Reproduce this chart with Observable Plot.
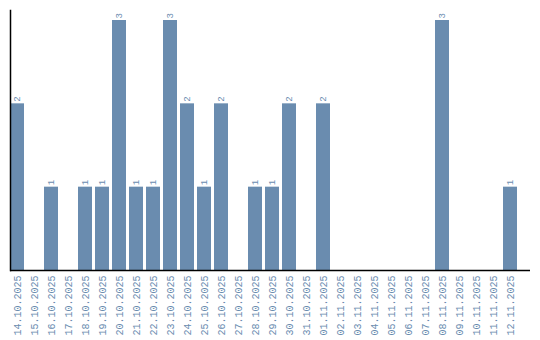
<!DOCTYPE html>
<html><head><meta charset="utf-8">
<script src="https://cdn.jsdelivr.net/npm/d3@7"></script>
<script src="https://cdn.jsdelivr.net/npm/@observablehq/plot@0.6"></script>
<style>body{margin:0;background:#fff}</style>
</head><body><div id="chart"></div>
<script>
const dates = ["14.10.2025","15.10.2025","16.10.2025","17.10.2025","18.10.2025","19.10.2025","20.10.2025","21.10.2025","22.10.2025","23.10.2025","24.10.2025","25.10.2025","26.10.2025","27.10.2025","28.10.2025","29.10.2025","30.10.2025","31.10.2025","01.11.2025","02.11.2025","03.11.2025","04.11.2025","05.11.2025","06.11.2025","07.11.2025","08.11.2025","09.11.2025","10.11.2025","11.11.2025","12.11.2025"];
const counts = [2,0,1,0,1,1,3,1,1,3,2,1,2,0,1,1,2,0,2,0,0,0,0,0,0,3,0,0,0,1];
const data = dates.map((d,i)=>({date:d, count:counts[i]}));
const nonzero = data.filter(d=>d.count>0);
const color = "#6a8caf";
const chart = Plot.plot({
  width: 540, height: 340,
  marginLeft: 10, marginRight: 10, marginTop: 10, marginBottom: 70,
  style: {fontFamily: "'Liberation Mono', monospace", fontSize: "10px"},
  x: {domain: dates, range: [10, 517], paddingInner: 3/17, paddingOuter: 0, align: 0, label: null, tickSize: 0, tickRotate: -90, tickPadding: 5},
  y: {domain: [0, 3.12], axis: null},
  marks: [
    Plot.barY(data, {x: "date", y: "count", fill: color}),
    Plot.text(nonzero, {x: "date", y: "count", text: d => String(d.count), rotate: -90, textAnchor: "start", dy: -2, fill: color, fontSize: 9}),
    Plot.axisX({tickSize: 0, tickRotate: -90, tickPadding: 5, fill: color, label: null, fontSize: 10}),
    Plot.ruleY([0], {stroke: "black", strokeWidth: 1.5}),
    Plot.frame({anchor: "left", stroke: "black", strokeWidth: 1.5})
  ]
});
document.getElementById("chart").append(chart);
</script>
</body></html>
